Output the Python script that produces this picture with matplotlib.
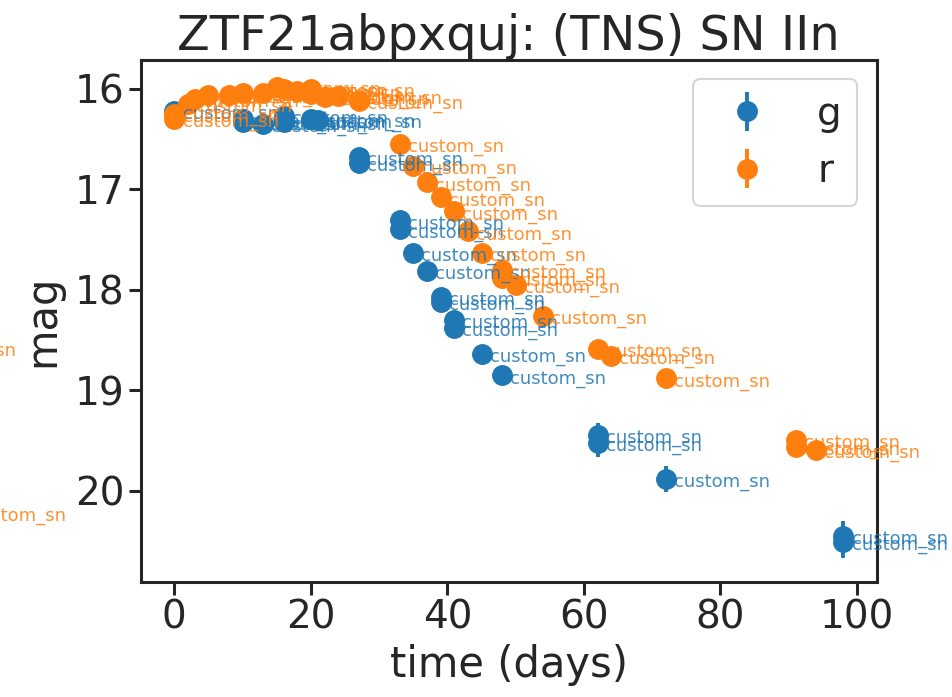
import matplotlib
matplotlib.use("Agg")
import matplotlib.pyplot as plt

# g band photometry (days since first detection, mag, error)
g_time = [0, 10, 10, 13, 16, 16, 20, 21, 27, 27, 33, 33, 35, 37, 39, 39, 41, 41, 45, 48, 62, 62, 72, 98, 98]
g_mag = [16.22, 16.30, 16.33, 16.35, 16.27, 16.33, 16.30, 16.31, 16.68, 16.74, 17.31, 17.40, 17.63, 17.81,
         18.07, 18.12, 18.30, 18.38, 18.64, 18.85, 19.44, 19.52, 19.88, 20.45, 20.51]
g_err = [0.04, 0.04, 0.05, 0.05, 0.04, 0.05, 0.04, 0.04, 0.05, 0.05, 0.06, 0.06, 0.05, 0.05,
         0.06, 0.06, 0.07, 0.07, 0.06, 0.06, 0.12, 0.14, 0.13, 0.15, 0.16]

# r band photometry
r_time = [0, 0, 2, 3, 5, 8, 10, 13, 15, 16, 18, 20, 20, 22, 24, 27, 33, 35, 37, 39, 41, 43, 45, 48, 48, 50,
          54, 62, 64, 72, 91, 91, 94]
r_mag = [16.30, 16.25, 16.15, 16.10, 16.06, 16.06, 16.04, 16.04, 15.98, 16.00, 16.02, 16.00, 16.05, 16.08,
         16.07, 16.12, 16.55, 16.77, 16.93, 17.08, 17.22, 17.42, 17.63, 17.80, 17.88, 17.95,
         18.26, 18.59, 18.66, 18.88, 19.49, 19.56, 19.59]
r_err = [0.03, 0.03, 0.03, 0.03, 0.03, 0.03, 0.03, 0.03, 0.03, 0.03, 0.03, 0.03, 0.03, 0.03,
         0.03, 0.03, 0.04, 0.04, 0.04, 0.04, 0.04, 0.05, 0.05, 0.05, 0.05, 0.05,
         0.05, 0.05, 0.05, 0.05, 0.06, 0.06, 0.06]

# extra r-band labels that sit left of the plotted range
r_extra_time = [-38.4, -31.2]
r_extra_mag = [18.58, 20.22]

label = "custom_sn"
title = "ZTF21abpxquj: (TNS) SN IIn"

plt.rcParams["font.family"] = ["DejaVu Sans"]
plt.rcParams["text.color"] = "#262626"
plt.rcParams["axes.labelcolor"] = "#262626"
plt.rcParams["xtick.color"] = "#262626"
plt.rcParams["ytick.color"] = "#262626"

fig = plt.figure(figsize=(9.52, 6.97), dpi=100)
ax = fig.add_axes([0.148, 0.165, 0.773, 0.749])

bands = [("g", g_time, g_mag, g_err, "#1f77b4"),
         ("r", r_time, r_mag, r_err, "#ff7f0e")]

for name, t, m, e, col in bands:
    ax.errorbar(t, m, yerr=e, fmt="o", color=col, ms=14, elinewidth=2.8, label=name)
    for ti, mi in zip(t, m):
        ax.text(ti + 1.2, mi + 0.08, label, color=col, fontsize=13, alpha=0.85)

for ti, mi in zip(r_extra_time, r_extra_mag):
    ax.text(ti + 1.2, mi + 0.08, label, color="#ff7f0e", fontsize=13, alpha=0.85)

ax.invert_yaxis()
ax.set_xticks([0, 20, 40, 60, 80, 100])
ax.set_yticks([16, 17, 18, 19, 20])
ax.set_xlabel("time (days)", fontsize=30, labelpad=5)
ax.set_ylabel("mag", fontsize=30, labelpad=8)
ax.set_title(title, fontsize=34.5, pad=6)
ax.tick_params(labelsize=28, length=9, width=2.2, pad=3)
for sp in ax.spines.values():
    sp.set_linewidth(2.2)
    sp.set_color("#262626")

leg = ax.legend(loc="upper right", fontsize=28, frameon=True, fancybox=True)
leg.get_frame().set_edgecolor("#cccccc")
leg.get_frame().set_linewidth(1.5)

fig.savefig("out.png", dpi=100)
